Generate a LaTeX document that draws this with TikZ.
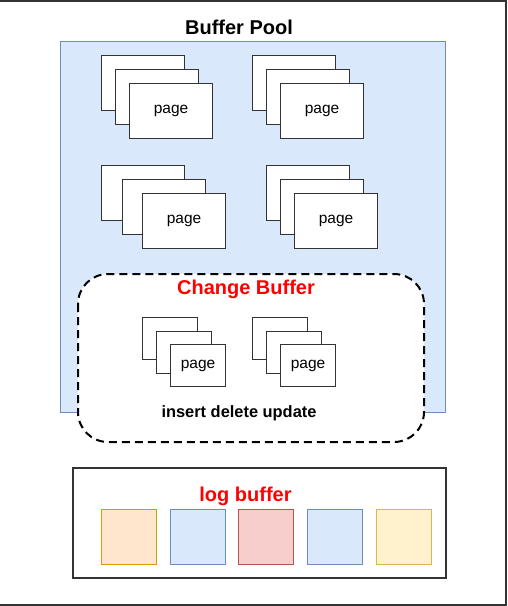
\documentclass[tikz,border=0pt]{standalone}
\usepackage{fontspec}
\setmainfont{Liberation Sans}
\usepackage{xcolor}
\usepackage{tikz}
\usetikzlibrary{calc,positioning}
\definecolor{poolfill}{HTML}{DAE8FC}
\definecolor{pooldraw}{HTML}{6C8EBF}
\definecolor{edgec}{HTML}{333333}
\definecolor{redtxt}{HTML}{FF0000}
\definecolor{orfill}{HTML}{FFE6CC}
\definecolor{ordraw}{HTML}{D79B00}
\definecolor{rdfill}{HTML}{F8CECC}
\definecolor{rddraw}{HTML}{B85450}
\definecolor{ylfill}{HTML}{FFF2CC}
\definecolor{yldraw}{HTML}{D6B656}
\tikzset{
  pg/.style={draw=edgec,line width=1.2pt,fill=white,anchor=north west,inner sep=0pt,
    minimum width=83pt,minimum height=55pt,font=\fontsize{15.5}{17}\selectfont},
  pgsmall/.style={pg,minimum width=55pt,minimum height=42pt},
  sq/.style={line width=1.2pt,anchor=north west,inner sep=0pt,minimum size=55pt},
  ttl/.style={font=\bfseries\fontsize{20}{22}\selectfont},
  lbl/.style={font=\bfseries\fontsize{16.4}{18}\selectfont}
}
\begin{document}
\begin{tikzpicture}[x=1pt,y=-1pt]
\useasboundingbox (0,0) rectangle (508,606);
\draw[edgec,line width=2pt] (0,1)--(506,1)--(506,605)--(0,605);
% buffer pool
\fill[poolfill] (60,41) rectangle (445,412);
\draw[pooldraw,line width=1pt] (60,41) rectangle (445,412);
\node[ttl] (bptitle) at (239,27) {Buffer Pool};
% page stacks
\foreach \nm/\x/\y/\dx in {s1/101/55/14, s2/252/55/14, s3/101/165/20.5, s4/266/165/14}{
  \node[pg] (\nm a) at (\x,\y) {};
  \node[pg] (\nm b) at ($(\x,\y)+(\dx,14)$) {};
  \node[pg] (\nm c) at ($(\x,\y)+(2*\dx,28)$) {page};
}
% change buffer
\draw[black,line width=2pt,dash pattern=on 8pt off 5pt,rounded corners=30pt,fill=white]
  (78,274) rectangle (424,442);
\node[ttl,redtxt] (cbtitle) at (246,289) {Change Buffer};
\foreach \nm/\x in {c1/142, c2/252}{
  \node[pgsmall] (\nm a) at (\x,317) {};
  \node[pgsmall] (\nm b) at (\x+14,330.5) {};
  \node[pgsmall] (\nm c) at (\x+28,344) {page};
}
\node[lbl] (ops) at (239,413) {insert delete update};
% log buffer
\draw[edgec,line width=1.3pt] (73,468) rectangle (446,578);
\node[ttl,redtxt] (lbtitle) at (245.5,496) {log buffer};
\foreach \nm/\x/\f/\d in {l1/101/orfill/ordraw, l2/170/poolfill/pooldraw, l3/238/rdfill/rddraw,
  l4/307/poolfill/pooldraw, l5/376/ylfill/yldraw}{
  \node[sq,fill=\f,draw=\d] (\nm) at (\x,509) {};
}
\end{tikzpicture}
\end{document}
